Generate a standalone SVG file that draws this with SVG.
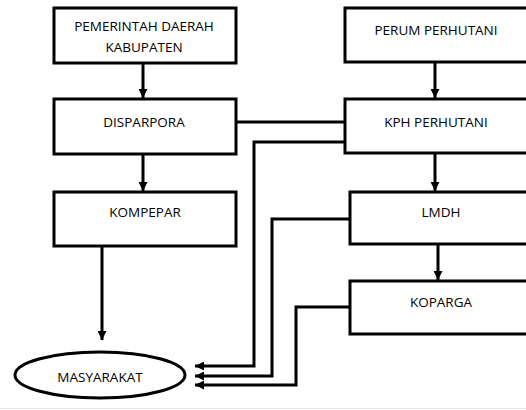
<svg xmlns="http://www.w3.org/2000/svg" width="526" height="410" viewBox="0 0 526 410">
<style>
.box{fill:#fff;stroke:#000;stroke-width:3}
.ln{fill:none;stroke:#000;stroke-width:3}
text{font-family:"Open Sans","Liberation Sans",sans-serif;font-size:13.5px;fill:#000;text-anchor:middle;dominant-baseline:central}
</style>
<defs>
<marker id="ah" viewBox="0 0 10 10" refX="10" refY="5" markerWidth="3" markerHeight="3" orient="auto" markerUnits="strokeWidth">
<path d="M0,0 L10,5 L0,10 z" fill="#000"/>
</marker>
</defs>
<rect width="526" height="410" fill="#fff"/>
<line x1="0" y1="408.5" x2="526" y2="408.5" stroke="#e6e6e6" stroke-width="1"/>
<g id="connectors">
<line class="ln" x1="143" y1="63" x2="143" y2="98" marker-end="url(#ah)"/>
<line class="ln" x1="143" y1="154" x2="143" y2="191" marker-end="url(#ah)"/>
<line class="ln" x1="102" y1="246" x2="102" y2="340" marker-end="url(#ah)"/>
<line class="ln" x1="435" y1="62" x2="435" y2="98" marker-end="url(#ah)"/>
<line class="ln" x1="435" y1="154" x2="435" y2="191" marker-end="url(#ah)"/>
<line class="ln" x1="438" y1="244" x2="438" y2="280" marker-end="url(#ah)"/>
<line class="ln" x1="236" y1="122" x2="345" y2="122"/>
<polyline class="ln" points="345,142 254,142 254,366 195,366" marker-end="url(#ah)"/>
<polyline class="ln" points="350,219 272,219 272,376 195,376" marker-end="url(#ah)"/>
<polyline class="ln" points="350,307 296,307 296,385 195,385" marker-end="url(#ah)"/>
</g>
<g id="pemerintah">
<rect class="box" x="54" y="8" width="182" height="55"/>
<text x="144" y="26">PEMERINTAH DAERAH</text>
<text x="144" y="47">KABUPATEN</text>
</g>
<g id="disparpora">
<rect class="box" x="54" y="99" width="182" height="55"/>
<text x="144" y="122">DISPARPORA</text>
</g>
<g id="kompepar">
<rect class="box" x="54" y="192" width="182" height="54"/>
<text x="145" y="212">KOMPEPAR</text>
</g>
<g id="masyarakat">
<ellipse class="box" cx="100" cy="375" rx="85" ry="23"/>
<text x="100" y="377">MASYARAKAT</text>
</g>
<g id="perum">
<rect class="box" x="345" y="8" width="190" height="54"/>
<text x="436" y="30">PERUM PERHUTANI</text>
</g>
<g id="kph">
<rect class="box" x="345" y="99" width="190" height="54"/>
<text x="436" y="122">KPH PERHUTANI</text>
</g>
<g id="lmdh">
<rect class="box" x="350" y="192" width="190" height="52"/>
<text x="441" y="212">LMDH</text>
</g>
<g id="koparga">
<rect class="box" x="350" y="281" width="190" height="53"/>
<text x="441" y="302">KOPARGA</text>
</g>
</svg>
